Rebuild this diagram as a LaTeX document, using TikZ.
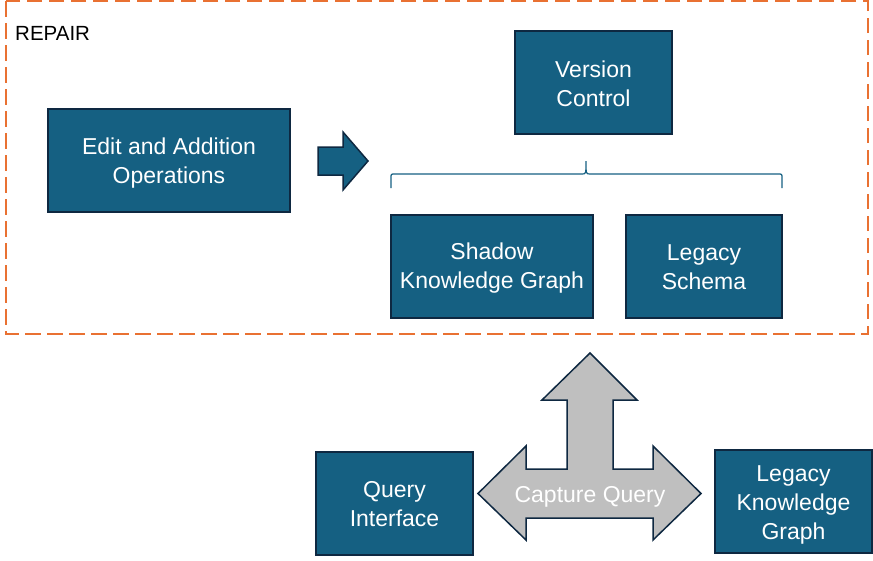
\documentclass[tikz,border=0pt]{standalone}
\usepackage{fontspec}
\setmainfont{Liberation Sans}
\definecolor{boxfill}{HTML}{156082}
\definecolor{boxline}{HTML}{0E2841}
\definecolor{repairorange}{HTML}{E97132}
\definecolor{arrowgray}{HTML}{BFBFBF}
\definecolor{lighttext}{HTML}{F2F2F2}
\begin{document}
\begin{tikzpicture}[x=1pt,y=-1pt,
  bluebox/.style={draw=boxline, line width=1.5pt, fill=boxfill,
    inner sep=0pt, minimum height=103pt},
  boxtext/.style={text=white, inner sep=0pt, align=center,
    font=\fontsize{23pt}{29pt}\selectfont},
  blockarrow/.style={draw=boxline, line width=1.5pt, line join=miter},
]
\useasboundingbox (0,0) rectangle (873,560);
% dashed REPAIR frame
\draw[repairorange, line width=2.2pt, dash pattern=on 15.5pt off 6.5pt]
  (6,1) rectangle (868,334);
\node[anchor=west, inner sep=0pt, font=\fontsize{20.5pt}{24pt}\selectfont] (repair) at (15,33) {REPAIR};

% boxes
\node[bluebox, minimum width=242pt] (edit) at (169,160.5) {};
\node[bluebox, minimum width=157pt] (version) at (593.5,82.5) {};
\node[bluebox, minimum width=202pt] (shadow) at (492,266.5) {};
\node[bluebox, minimum width=156pt] (lschema) at (704,266.5) {};
\node[bluebox, minimum width=157pt] (query) at (394.5,503.5) {};
\node[bluebox, minimum width=157pt] (lkg) at (793.5,501.5) {};

\node[boxtext] (edittext) at ([yshift=-3pt]edit.center) {Edit and Addition\\Operations};
\node[boxtext] (versiontext) at ([yshift=-1pt]version.center) {Version\\Control};
\node[boxtext] (shadowtext) at ([yshift=-2pt]shadow.center) {Shadow\\Knowledge Graph};
\node[boxtext] (lschematext) at ([yshift=-1pt]lschema.center) {Legacy\\Schema};
\node[boxtext] (querytext) at ([yshift=-1pt]query.center) {Query\\Interface};
\node[boxtext] (lkgtext) at ([yshift=-3pt]lkg.center) {Legacy\\Knowledge\\Graph};

% right block arrow
\draw[blockarrow, fill=boxfill]
  (318,147) -- (343,147) -- (343,132) -- (368,161) -- (343,190) -- (343,175) -- (318,175) -- cycle;

% brace
\draw[boxfill, line width=1.2pt]
  (391,188) -- (391,178) .. controls (391,174) .. (395,174) -- (582,174)
  .. controls (586,174) .. (586,161) .. controls (586,174) .. (590,174)
  -- (778,174) .. controls (782,174) .. (782,178) -- (782,188);

% capture query arrow
\draw[blockarrow, fill=arrowgray]
  (590,353) -- (637,400) -- (613,400) -- (613,469) -- (653,469) -- (653,446)
  -- (701,493.5) -- (653,540) -- (653,518) -- (526,518) -- (526,540)
  -- (478,493.5) -- (526,446) -- (526,469) -- (567,469) -- (567,400)
  -- (542,400) -- cycle;
\node[text=white, font=\fontsize{23pt}{27pt}\selectfont] (capture) at (590,497) {Capture Query};
\end{tikzpicture}
\end{document}
